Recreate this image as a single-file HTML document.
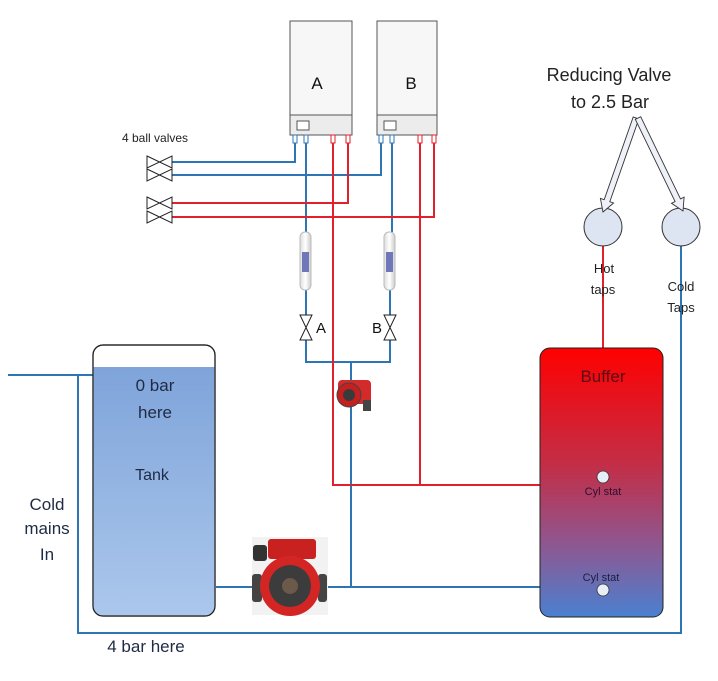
<!DOCTYPE html>
<html><head><meta charset="utf-8"><style>
html,body{margin:0;padding:0;background:#fff;}
svg{display:block;font-family:"Liberation Sans",sans-serif;}
</style></head><body>
<svg width="718" height="681" viewBox="0 0 718 681" xmlns="http://www.w3.org/2000/svg">
<defs>
<linearGradient id="tank" x1="0" y1="0" x2="0" y2="1"><stop offset="0" stop-color="#7fa4da"/><stop offset="1" stop-color="#abc7ec"/></linearGradient>
<linearGradient id="buf" x1="0" y1="0" x2="0" y2="1"><stop offset="0" stop-color="#ff0000"/><stop offset="0.45" stop-color="#c0304a"/><stop offset="0.75" stop-color="#8a5a95"/><stop offset="1" stop-color="#4a80d0"/></linearGradient>
<linearGradient id="filt" x1="0" y1="0" x2="1" y2="0"><stop offset="0" stop-color="#ddd"/><stop offset="0.5" stop-color="#fff"/><stop offset="1" stop-color="#ccc"/></linearGradient>
</defs>
<g fill="none" stroke-width="2">
<g stroke="#2e75b6">
<path d="M172 162H295V137"/>
<path d="M172 175H381V137"/>
<path d="M306 137V232M306 290V315M306 340V362H390V340M390 315V290M392 137V232"/>
<path d="M351 362V587M216 587H540"/>
<path d="M8 375H93M78 375V633H681V246"/>
</g>
<g stroke="#e0202a">
<path d="M172 203H348V137"/>
<path d="M172 217H434V137"/>
<path d="M333 137V485H540M420 137V485"/>
<path d="M603 246V348"/>
</g>
</g>
<g stroke="#555" stroke-width="1">
<rect x="290" y="21" width="62" height="114" fill="#f7f7f7"/>
<rect x="290" y="115" width="62" height="20" fill="#ececec"/>
<rect x="297" y="121" width="12" height="9" fill="#fff"/>
<rect x="377" y="21" width="60" height="114" fill="#f7f7f7"/>
<rect x="377" y="115" width="60" height="20" fill="#ececec"/>
<rect x="384" y="121" width="12" height="9" fill="#fff"/>
</g>
<g stroke-width="1" fill="#fff">
<rect x="293" y="135" width="4" height="8" stroke="#2e75b6"/><rect x="304" y="135" width="4" height="8" stroke="#2e75b6"/>
<rect x="331" y="135" width="4" height="8" stroke="#e0202a"/><rect x="346" y="135" width="4" height="8" stroke="#e0202a"/>
<rect x="379" y="135" width="4" height="8" stroke="#2e75b6"/><rect x="390" y="135" width="4" height="8" stroke="#2e75b6"/>
<rect x="418" y="135" width="4" height="8" stroke="#e0202a"/><rect x="432" y="135" width="4" height="8" stroke="#e0202a"/>
</g>
<text x="317" y="89" font-size="17" text-anchor="middle" fill="#111">A</text>
<text x="411" y="89" font-size="17" text-anchor="middle" fill="#111">B</text>
<text x="122" y="142" font-size="12" fill="#222">4 ball valves</text>
<g stroke="#222" stroke-width="1" fill="#fff">
<path d="M147 156L172 168V156L147 168Z"/>
<path d="M147 169L172 181V169L147 181Z"/>
<path d="M147 197L172 209V197L147 209Z"/>
<path d="M147 211L172 223V211L147 223Z"/>
<path d="M300 315L312 340H300L312 315Z"/>
<path d="M384 315L396 340H384L396 315Z"/>
</g>
<text x="316" y="333" font-size="15" fill="#111">A</text>
<text x="372" y="333" font-size="15" fill="#111">B</text>
<g stroke="#bbb" stroke-width="1">
<rect x="300" y="232" width="11" height="58" rx="5" fill="url(#filt)"/>
<rect x="384" y="232" width="11" height="58" rx="5" fill="url(#filt)"/>
</g>
<rect x="302" y="252" width="7" height="20" fill="#6f77b8"/>
<rect x="386" y="252" width="7" height="20" fill="#6f77b8"/>
<rect x="338" y="380" width="33" height="24" rx="4" fill="#d42a2a"/>
<circle cx="349" cy="395" r="12" fill="#c42020" stroke="#444"/>
<circle cx="349" cy="395" r="6" fill="#3a3a3a"/>
<rect x="363" y="400" width="8" height="11" fill="#444"/>
<rect x="93" y="345" width="122" height="271" rx="10" fill="#fff" stroke="#222" stroke-width="1.2"/>
<path d="M93.6 367H214.4V606a10 10 0 0 1 -10 10H103.6a10 10 0 0 1 -10 -10Z" fill="url(#tank)"/>
<rect x="93" y="345" width="122" height="271" rx="10" fill="none" stroke="#222" stroke-width="1.2"/>
<g font-size="17" fill="#1f2a44" text-anchor="middle">
<text x="155" y="391">0 bar</text><text x="155" y="418">here</text>
<text x="152" y="480" font-size="16">Tank</text>
<text x="47" y="510">Cold</text><text x="47" y="534">mains</text><text x="47" y="560">In</text>
<text x="146" y="652">4 bar here</text>
</g>
<rect x="252" y="537" width="76" height="78" fill="#f2f2f2"/>
<rect x="268" y="539" width="48" height="20" rx="3" fill="#c92020"/>
<rect x="253" y="545" width="14" height="16" rx="3" fill="#333"/>
<rect x="252" y="574" width="10" height="28" rx="3" fill="#444"/>
<rect x="318" y="574" width="9" height="28" rx="3" fill="#444"/>
<circle cx="290" cy="586" r="30" fill="#d42525"/>
<circle cx="290" cy="586" r="21" fill="#3c3c3c"/>
<circle cx="290" cy="586" r="8" fill="#6b5a4a"/>
<rect x="540" y="348" width="123" height="269" rx="10" fill="url(#buf)" stroke="#222" stroke-width="1"/>
<text x="603" y="382" font-size="17" text-anchor="middle" fill="#5a0d14">Buffer</text>
<circle cx="603" cy="477" r="6" fill="#e8eef7" stroke="#333" stroke-width="0.8"/>
<text x="603" y="495" font-size="11" text-anchor="middle" fill="#2a1030">Cyl stat</text>
<text x="601" y="581" font-size="11" text-anchor="middle" fill="#1a2040">Cyl stat</text>
<circle cx="603" cy="590" r="6" fill="#e8eef7" stroke="#333" stroke-width="0.8"/>
<circle cx="603" cy="227" r="19" fill="#dde5f2" stroke="#333" stroke-width="1"/>
<circle cx="681" cy="227" r="19" fill="#dde5f2" stroke="#333" stroke-width="1"/>
<g font-size="13" fill="#222" text-anchor="middle">
<text x="604" y="273">Hot</text><text x="603" y="294">taps</text>
<text x="681" y="291">Cold</text><text x="681" y="312">Taps</text>
</g>
<g font-size="18" fill="#222" text-anchor="middle">
<text x="609" y="81">Reducing Valve</text><text x="610" y="108">to 2.5 Bar</text>
</g>
<g fill="#eef2f8" stroke="#333" stroke-width="0.9">
<path d="M638.8 119L609.8 201.7L613.6 203L603 212L600.4 198.4L604.2 199.7L633.2 117Z"/>
<path d="M640.7 116.7L680.5 198.9L684.1 197.1L683 211L671.5 203.3L675.1 201.5L635.3 119.3Z"/>
</g>
</svg>
</body></html>
